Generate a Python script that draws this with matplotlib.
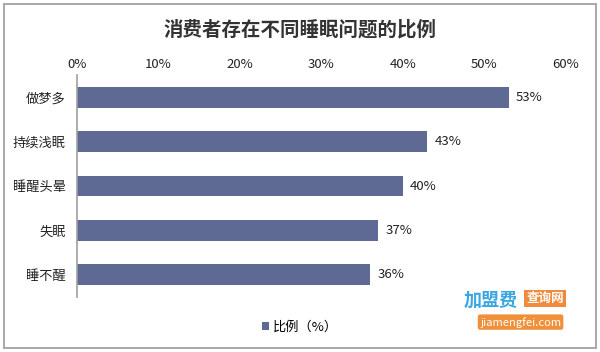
import matplotlib
matplotlib.use("Agg")
import matplotlib.pyplot as plt
from matplotlib.patches import Rectangle

plt.rcParams['font.family'] = ['Noto Sans CJK SC', 'DejaVu Sans']

categories = ['做梦多', '持续浅眠', '睡醒头晕', '失眠', '睡不醒']
values = [53, 43, 40, 37, 36]
xticks = [0, 10, 20, 30, 40, 50, 60]
title = '消费者存在不同睡眠问题的比例'
legend_label = '比例（%）'

bar_color = '#5f6a94'

fig = plt.figure(figsize=(6, 3.52), dpi=100)
fig.patches.append(Rectangle((0.006, 0.01), 0.988, 0.98, transform=fig.transFigure,
                             fill=False, edgecolor='#9a9a9a', linewidth=1.2))

ax = fig.add_axes([0.128, 0.156, 0.815, 0.631])
y = list(range(len(categories)))
ax.barh(y, values, height=0.47, color=bar_color, label=legend_label)
ax.set_ylim(len(categories) - 0.5, -0.5)
ax.set_xlim(0, 60)
ax.set_yticks(y)
ax.set_yticklabels(categories, fontsize=9.5, color='#222222')
ax.set_xticks(xticks)
ax.set_xticklabels(['%d%%' % t for t in xticks], fontsize=9.5, color='#222222')
ax.xaxis.tick_top()
ax.tick_params(axis='both', length=0)
ax.tick_params(axis='x', pad=3)
ax.tick_params(axis='y', pad=8)
for s in ['top', 'right', 'bottom']:
    ax.spines[s].set_visible(False)
ax.spines['left'].set_color('#a0a0a0')
ax.spines['left'].set_linewidth(1.2)

for yi, v in zip(y, values):
    ax.text(v + 0.9, yi, '%d%%' % v, va='center', ha='left', fontsize=9.5, color='#222222')

fig.text(0.5, 0.915, title, ha='center', va='center', fontsize=14,
         fontweight='bold', color='#333333')

fig.legend(loc='center', bbox_to_anchor=(0.5, 0.07), frameon=False, fontsize=9.5,
           handlelength=0.55, handleheight=0.55, handletextpad=0.3)

# watermark
fig.text(0.773, 0.148, '加盟费', fontsize=13, fontweight='bold', style='italic',
         color='#3aa7e0', ha='left', va='center')
fig.text(0.877, 0.152, '查询网', fontsize=9, fontweight='bold', color='white',
         ha='left', va='center',
         bbox=dict(boxstyle='square,pad=0.15', fc='#f08a3c', ec='none'))
fig.text(0.8, 0.085, 'jiamengfei.com', fontsize=8, color='white', ha='left', va='center',
         bbox=dict(boxstyle='round,pad=0.2', fc='#f0903a', ec='none'))

fig.savefig('out.png', dpi=100)
